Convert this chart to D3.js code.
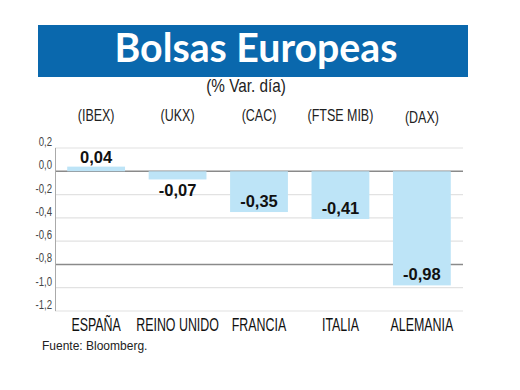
<!DOCTYPE html>
<html>
<head>
<meta charset="utf-8">
<script src="https://cdn.jsdelivr.net/npm/d3@7"></script>
<style>
  body { margin: 0; background: #fff; }
  svg { display: block; }
  .narrow { font-family: "Liberation Sans", Arial, sans-serif; }
</style>
</head>
<body>
<svg width="520" height="390"></svg>
<script>
// datos
var paises = ["ESPAÑA", "REINO UNIDO", "FRANCIA", "ITALIA", "ALEMANIA"];
var indices = ["(IBEX)", "(UKX)", "(CAC)", "(FTSE MIB)", "(DAX)"];
var variacion = [0.04, -0.07, -0.35, -0.41, -0.98];
var ticks = [0.2, 0.0, -0.2, -0.4, -0.6, -0.8, -1.0, -1.2];
var lineasOscuras = [0.0, -0.8];

var svg = d3.select("svg");
var coma = function(v, dec) { return d3.format("." + dec + "f")(v).replace(".", ",").replace("−", "-"); };

// texto estrecho: no hay fuente condensada, se escala en horizontal
function estrecho(sel, fx, fy, s) {
  sel.attr("class", "narrow")
    .attr("transform", function(d, i) { return "translate(" + fx(d, i) + "," + fy(d, i) + ") scale(" + s + ",1)"; });
}

// cabecera
svg.append("rect")
  .attr("x", 38).attr("y", 25)
  .attr("width", 430).attr("height", 52)
  .attr("fill", "#0a68ad");

svg.append("text")
  .attr("x", 256).attr("y", 62)
  .attr("text-anchor", "middle")
  .attr("fill", "#fff")
  .style("font-family", "Lato, 'Open Sans', sans-serif")
  .style("font-weight", "bold")
  .style("font-size", "40px")
  .attr("textLength", 283)
  .attr("lengthAdjust", "spacingAndGlyphs")
  .text("Bolsas Europeas");

svg.append("text")
  .call(estrecho, () => 246, () => 92, 0.85)
  .attr("text-anchor", "middle")
  .attr("fill", "#222")
  .style("font-size", "18px")
  .text("(% Var. día)");

var x = d3.scaleBand()
  .domain(paises)
  .range([55, 463])
  .paddingInner(0.29)
  .paddingOuter(0.15);

var y = d3.scaleLinear()
  .domain([-1.2, 0.2])
  .range([311, 148]);

var cx = (d, i) => x(paises[i]) + x.bandwidth() / 2;

// rejilla
svg.append("g")
  .selectAll("line")
  .data(ticks)
  .join("line")
    .attr("x1", 55).attr("x2", 463)
    .attr("y1", d => y(d)).attr("y2", d => y(d))
    .attr("stroke", d => lineasOscuras.indexOf(d) >= 0 ? "#8a8a8a" : "#e2e2e2")
    .attr("stroke-width", d => lineasOscuras.indexOf(d) >= 0 ? 1.5 : 1.2);

svg.append("line")
  .attr("x1", 55.5).attr("x2", 55.5)
  .attr("y1", y(0.2)).attr("y2", y(-1.2))
  .attr("stroke", "#aaa");

svg.append("g")
  .selectAll("text")
  .data(ticks)
  .join("text")
    .call(estrecho, () => 52, d => y(d) - 2, 0.8)
    .attr("text-anchor", "end")
    .attr("fill", "#444")
    .style("font-size", "12px")
    .text(d => coma(d, 1));

// barras
svg.append("g")
  .selectAll("rect")
  .data(variacion)
  .join("rect")
    .attr("x", (d, i) => x(paises[i]))
    .attr("width", x.bandwidth())
    .attr("y", d => y(Math.max(0, d)))
    .attr("height", d => Math.abs(y(d) - y(0)))
    .attr("fill", "#bde4f7");

// etiquetas de valor
svg.append("g")
  .selectAll("text")
  .data(variacion)
  .join("text")
    .attr("x", cx)
    .attr("y", d => d >= 0 ? y(d) - 4 : (d > -0.2 ? y(d) + 17 : y(d) - 5))
    .attr("text-anchor", "middle")
    .attr("fill", "#111")
    .style("font-family", "'Liberation Sans', Arial, sans-serif")
    .style("font-weight", "bold")
    .style("font-size", "16.5px")
    .text(d => coma(d, 2));

// indices arriba
svg.append("g")
  .selectAll("text")
  .data(indices)
  .join("text")
    .call(estrecho, cx, (d, i) => i === 4 ? 123 : 121, 0.78)
    .attr("text-anchor", "middle")
    .attr("fill", "#222")
    .style("font-size", "16px")
    .text(d => d);

// paises abajo
svg.append("g")
  .selectAll("text")
  .data(paises)
  .join("text")
    .call(estrecho, cx, () => 331, 0.71)
    .attr("text-anchor", "middle")
    .attr("fill", "#111")
    .style("font-size", "17.5px")
    .text(d => d);

svg.append("text")
  .attr("x", 42).attr("y", 350)
  .attr("fill", "#222")
  .style("font-family", "'Liberation Sans', Arial, sans-serif")
  .style("font-size", "12px")
  .text("Fuente: Bloomberg.");
</script>
</body>
</html>
